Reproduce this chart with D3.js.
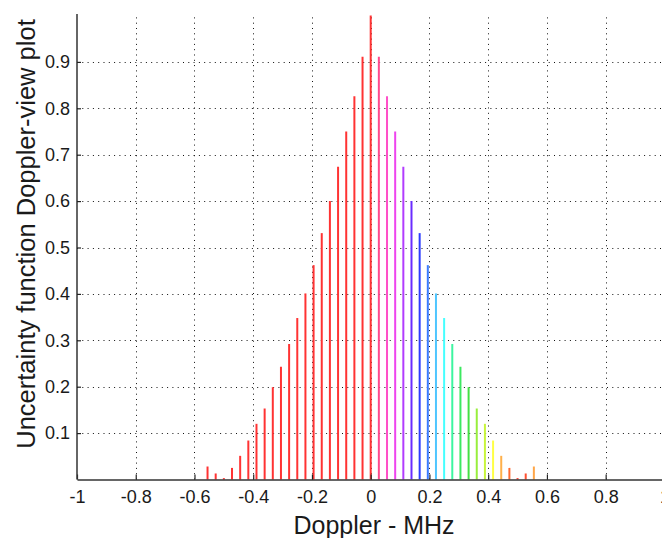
<!DOCTYPE html>
<html>
<head>
<meta charset="utf-8">
<script src="https://cdn.jsdelivr.net/npm/d3@7"></script>
<style>
  html, body { margin: 0; padding: 0; background: #fff; overflow: hidden; }
  svg { display: block; }
  text { font-family: "Liberation Sans", Arial, sans-serif; fill: #1a1a1a; }
</style>
</head>
<body>
<svg id="chart" width="662" height="538"></svg>
<script>
// Doppler bins (index k, Doppler = k/36 MHz)
const binIndex = d3.range(-20, 21);
// Amplitudes for k = 0..20 (the plot is symmetric about 0)
const halfAmplitudes = [1.0, 0.911, 0.826, 0.750, 0.674, 0.600, 0.531, 0.462, 0.401, 0.348,
  0.292, 0.243, 0.199, 0.153, 0.120, 0.084, 0.051, 0.025, 0.003, 0.013, 0.028];
// Colours for the stems right of 0 (k = 1..20); left side and centre are red
const rightColors = ["#ff4a8c", "#ff4fc8", "#ee44ee", "#b23cff", "#6a2cff", "#2b3cff", "#3a7bff",
  "#4fc6ff", "#45ffff", "#3cf5a0", "#3ce860", "#44e044", "#98ee3c", "#c8f53a", "#ffff44",
  "#ffb04a", "#ff6a30", "#ff3a2a", "#ff5030", "#ffa648"];
const leftColor = "#ff3333";
const xTickValues = [-1, -0.8, -0.6, -0.4, -0.2, 0, 0.2, 0.4, 0.6, 0.8, 1];
const xTickLabels = ["-1", "-0.8", "-0.6", "-0.4", "-0.2", "0", "0.2", "0.4", "0.6", "0.8", "1"];
const yTickValues = [0.1, 0.2, 0.3, 0.4, 0.5, 0.6, 0.7, 0.8, 0.9];
const yTickLabels = ["0.1", "0.2", "0.3", "0.4", "0.5", "0.6", "0.7", "0.8", "0.9"];

(function () {
const stems = binIndex.map(k => ({
  x: k / 36,
  v: halfAmplitudes[Math.abs(k)],
  c: k <= 0 ? leftColor : rightColors[k - 1]
}));

const svg = d3.select("#chart");
const mL = 77, mR = 664.4, mT = 15.5, mB = 479.5;
const x = d3.scaleLinear().domain([-1, 1]).range([mL, mR]);
const y = d3.scaleLinear().domain([0, 1]).range([mB, mT]);
const FONT = "'Liberation Sans', Arial, sans-serif";

// grid
const grid = svg.append("g").attr("stroke", "#111").attr("stroke-width", 1)
  .attr("stroke-dasharray", "1,4.3");
grid.selectAll("line.v").data(xTickValues.filter(v => v > -1))
  .join("line").attr("class", "v")
  .attr("x1", d => Math.round(x(d)) + 0.5).attr("x2", d => Math.round(x(d)) + 0.5)
  .attr("y1", mB).attr("y2", mT);
grid.selectAll("line.h").data(yTickValues)
  .join("line").attr("class", "h")
  .attr("y1", d => Math.round(y(d)) + 0.5).attr("y2", d => Math.round(y(d)) + 0.5)
  .attr("x1", mL).attr("x2", 662);

// stems
svg.append("g").selectAll("line").data(stems).join("line")
  .attr("x1", d => x(d.x)).attr("x2", d => x(d.x))
  .attr("y1", y(0)).attr("y2", d => y(d.v))
  .attr("stroke", d => d.c).attr("stroke-width", 2);

// axes
const xAxis = d3.axisBottom(x).tickValues(xTickValues)
  .tickFormat((d, i) => xTickLabels[i]).tickSizeInner(-5).tickSizeOuter(0).tickPadding(0);
const gx = svg.append("g").attr("transform", `translate(0,${mB})`).call(xAxis)
  .attr("font-size", 18).attr("font-family", FONT);
gx.select(".domain").attr("stroke", "#333").attr("stroke-width", 1.5);
gx.selectAll(".tick line").attr("stroke", "#222").attr("stroke-width", 1.2);
gx.selectAll(".tick text").attr("y", 23).attr("dy", null).attr("fill", "#262626");

const yAxis = d3.axisLeft(y).tickValues(yTickValues)
  .tickFormat((d, i) => yTickLabels[i]).tickSizeInner(-4).tickSizeOuter(0).tickPadding(8);
const gy = svg.append("g").attr("transform", `translate(${mL},0)`).call(yAxis)
  .attr("font-size", 18).attr("font-family", FONT);
gy.select(".domain").attr("stroke", "#333").attr("stroke-width", 1.5)
  .attr("d", `M0,${mT - 1.5}V${mB}`);
gy.selectAll(".tick line").attr("stroke", "#222").attr("stroke-width", 1.2);
gy.selectAll(".tick text").attr("x", -7).attr("fill", "#262626");

// labels
svg.append("text").attr("x", 374).attr("y", 534)
  .attr("text-anchor", "middle").attr("font-size", 25).text("Doppler - MHz");
svg.append("text").attr("transform", `translate(35,234) rotate(-90)`)
  .attr("text-anchor", "middle").attr("font-size", 25.5)
  .text("Uncertainty function Doppler-view plot");
})();
</script>
</body>
</html>
